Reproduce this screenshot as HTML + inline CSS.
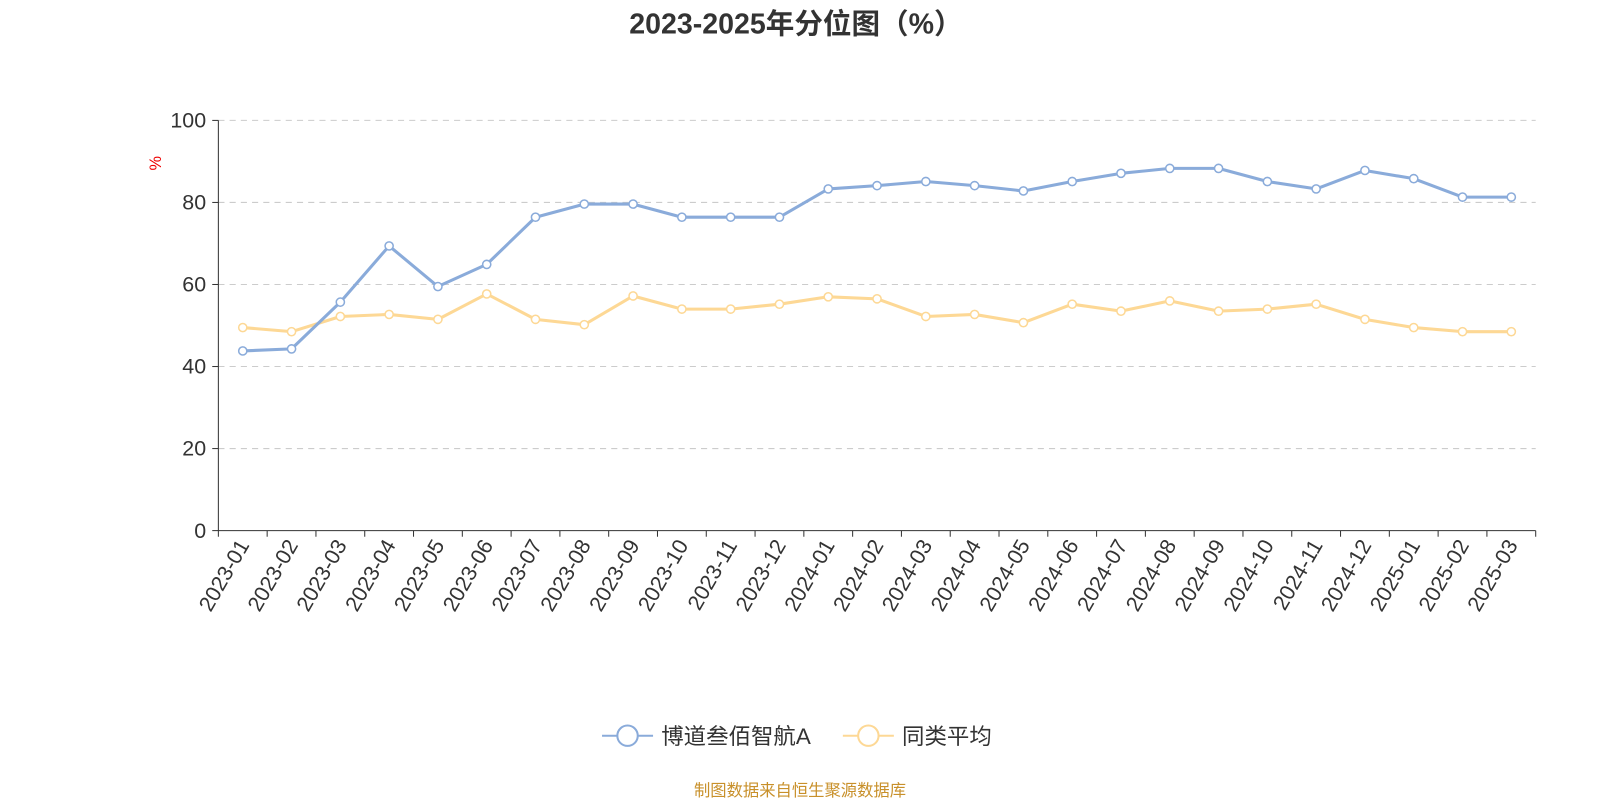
<!DOCTYPE html>
<html><head><meta charset="utf-8"><style>
body{margin:0;background:#fff;}
svg{display:block;font-family:"Liberation Sans","Noto Sans CJK SC",sans-serif;}
</style></head><body>
<svg id="chart" width="1600" height="800">
<g transform="scale(1.0204)">
<text x="780" y="33" text-anchor="middle" font-size="28" font-weight="bold" fill="#333">2023-2025年分位图（%）</text>
<text x="0" y="0" transform="translate(158,160) rotate(-90)" text-anchor="middle" font-size="16" fill="#e00">%</text>
<g id="grid"></g><g id="axes"></g><g id="series"></g>
<g>
<g>
<line x1="590" y1="721" x2="640" y2="721" stroke="#8aabda" stroke-width="2"/>
<circle cx="615" cy="721" r="10" fill="#fff" stroke="#8aabda" stroke-width="2"/>
<text x="648" y="729" font-size="22" fill="#333">博道叁佰智航A</text></g>
<g>
<line x1="826" y1="721" x2="876" y2="721" stroke="#fdd895" stroke-width="2"/>
<circle cx="851" cy="721" r="10" fill="#fff" stroke="#fdd895" stroke-width="2"/>
<text x="884" y="729" font-size="22" fill="#333">同类平均</text></g>
</g>
<text x="784" y="780" text-anchor="middle" font-size="16" fill="#c8902a">制图数据来自恒生聚源数据库</text>
</g>
</svg>
<script>
const categories=["2023-01","2023-02","2023-03","2023-04","2023-05","2023-06","2023-07","2023-08","2023-09","2023-10","2023-11","2023-12","2024-01","2024-02","2024-03","2024-04","2024-05","2024-06","2024-07","2024-08","2024-09","2024-10","2024-11","2024-12","2025-01","2025-02","2025-03"];
const fundValues=[43.8,44.3,55.7,69.4,59.5,64.9,76.4,79.6,79.6,76.4,76.4,76.4,83.3,84.1,85.1,84.1,82.8,85.1,87.1,88.3,88.3,85.1,83.3,87.8,85.8,81.3,81.3];
const avgValues=[49.5,48.5,52.2,52.7,51.5,57.7,51.5,50.2,57.2,54,54,55.2,57,56.5,52.2,52.7,50.7,55.2,53.5,56,53.5,54,55.2,51.5,49.5,48.5,48.5];
const yTicks=[0,20,40,60,80,100];
const NS="http://www.w3.org/2000/svg";
const L=214,R=1505,T=118,B=520;
const bw=(R-L)/categories.length;
const xs=i=>L+bw*(i+0.5);
const ys=v=>B-(v/100)*(B-T);
function mk(t,a,p){const e=document.createElementNS(NS,t);for(const k in a)e.setAttribute(k,a[k]);p.appendChild(e);return e;}
const grid=document.getElementById('grid'),axes=document.getElementById('axes'),ser=document.getElementById('series');
yTicks.forEach(v=>{
 if(v>0){const g=mk('line',{x1:L,x2:R,y1:ys(v),y2:ys(v),stroke:'#ccc','stroke-dasharray':'6,5'},grid);
 
 }
 const tk=mk('line',{x1:L-6,x2:L,y1:ys(v),y2:ys(v),stroke:'#333'},axes);
 
 
 const t=mk('text',{x:L-12,y:ys(v)+7,'text-anchor':'end','font-size':21,fill:'#333'},axes);
 t.textContent=v;
 
 
});
const ya=mk('line',{x1:L,x2:L,y1:T,y2:B,stroke:'#333'},axes);


const xa=mk('line',{x1:L,x2:R,y1:B,y2:B,stroke:'#333'},axes);


for(let i=0;i<=categories.length;i++){
 const x=L+bw*i;
 const tk=mk('line',{x1:x,x2:x,y1:B,y2:B+6,stroke:'#333'},axes);
 
 
}
categories.forEach((c,i)=>{
 const x=xs(i);
 const t=mk('text',{x:0,y:0,transform:`translate(${x+7},${B+14}) rotate(-60)`,'text-anchor':'end','font-size':21,fill:'#333'},axes);
 t.textContent=c;
 
 
});
function draw(vals,color,name){
 const p=mk('polyline',{points:vals.map((v,i)=>xs(i)+','+ys(v)).join(' '),fill:'none',stroke:color,'stroke-width':3,'stroke-linejoin':'round'},ser);
 
 
 vals.forEach((v,i)=>{
  const c=mk('circle',{cx:xs(i),cy:ys(v),r:4,fill:'#fff',stroke:color,'stroke-width':1.5},ser);
  
  
 });
}
draw(avgValues,'#fdd895','average');
draw(fundValues,'#8aabda','fund');
</script>
</body></html>
